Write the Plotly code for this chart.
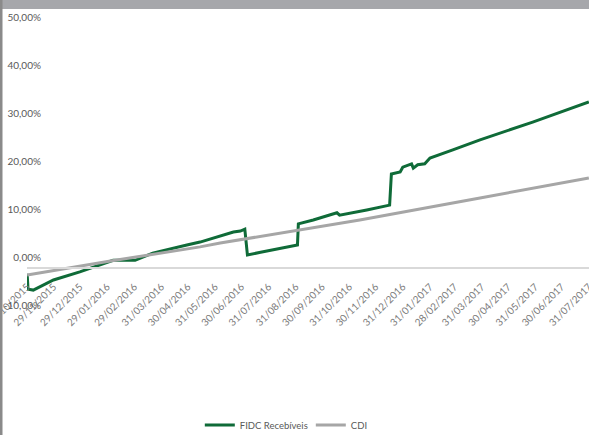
import plotly.graph_objects as go

# ---- data ----
fidc_dates = ["2015-10-30", "2015-10-31", "2015-11-06", "2015-11-29", "2015-12-29",
              "2016-01-29", "2016-02-05", "2016-03-01", "2016-03-21", "2016-04-29",
              "2016-05-14", "2016-06-21", "2016-06-29", "2016-07-04", "2016-07-07",
              "2016-07-22", "2016-08-10", "2016-09-02", "2016-09-03", "2016-09-20",
              "2016-10-17", "2016-10-20", "2016-11-20", "2016-12-16", "2016-12-18",
              "2016-12-28", "2016-12-31", "2017-01-10", "2017-01-12", "2017-01-17",
              "2017-01-25", "2017-01-31", "2017-02-26", "2017-03-29", "2017-05-28",
              "2017-07-31"]
fidc_values = [-1.2, -4.4, -4.6, -2.5, -0.8,
               1.25, 1.6, 1.6, 3.1, 4.8,
               5.4, 7.5, 7.7, 8.1, 2.7,
               3.3, 4.0, 4.8, 9.2, 10.0,
               11.5, 11.0, 12.1, 13.1, 19.6,
               20.0, 21.0, 21.7, 20.8, 21.5,
               21.7, 22.9, 24.6, 26.7, 30.4,
               34.6]

cdi_dates = ["2015-10-30", "2016-02-02", "2016-05-14", "2016-06-06", "2016-11-12",
             "2016-12-28", "2017-03-29", "2017-07-31"]
cdi_values = [-1.45, 1.45, 4.4, 5.2, 10.0, 11.5, 14.6, 18.75]

x_tick_dates = ["2015-10-30", "2015-11-29", "2015-12-29", "2016-01-29", "2016-02-29",
                "2016-03-31", "2016-04-30", "2016-05-31", "2016-06-30", "2016-07-31",
                "2016-08-31", "2016-09-30", "2016-10-31", "2016-11-30", "2016-12-31",
                "2017-01-31", "2017-02-28", "2017-03-31", "2017-04-30", "2017-05-31",
                "2017-06-30", "2017-07-31"]
x_tick_labels = ["30/10/2015", "29/11/2015", "29/12/2015", "29/01/2016", "29/02/2016",
                 "31/03/2016", "30/04/2016", "31/05/2016", "30/06/2016", "31/07/2016",
                 "31/08/2016", "30/09/2016", "31/10/2016", "30/11/2016", "31/12/2016",
                 "31/01/2017", "28/02/2017", "31/03/2017", "30/04/2017", "31/05/2017",
                 "30/06/2017", "31/07/2017"]
y_tick_vals = [-10, 0, 10, 20, 30, 40, 50]
y_tick_labels = ["-10,00%", "0,00%", "10,00%", "20,00%", "30,00%", "40,00%", "50,00%"]

series_names = ["FIDC Recebíveis", "CDI"]

FONT = "Lato"

fig = go.Figure()
fig.add_trace(go.Scatter(x=fidc_dates, y=fidc_values, mode="lines", name=series_names[0],
                         line=dict(color="#0f6b38", width=3)))
fig.add_trace(go.Scatter(x=cdi_dates, y=cdi_values, mode="lines", name=series_names[1],
                         line=dict(color="#a6a6a6", width=3)))

W, H = 589, 435
ml, mr, mt, mb = 27, 0, 28, 119
pw = W - ml - mr
ph = H - mt - mb

fig.update_layout(
    width=W, height=H,
    margin=dict(l=ml, r=mr, t=mt, b=mb, pad=0, autoexpand=False),
    paper_bgcolor="white", plot_bgcolor="white",
    font=dict(family=FONT, color="#595959"),
    showlegend=True,
    legend=dict(orientation="h", x=0.505, xanchor="center",
                y=-(425 - (H - mb)) / ph, yanchor="middle",
                font=dict(size=9.5, color="#595959", family=FONT),
                itemwidth=30, tracegroupgap=0, entrywidth=66),
    xaxis=dict(type="date", range=["2015-10-29 20:00", "2017-07-31 04:00"],
               tickvals=x_tick_dates, ticktext=x_tick_labels, tickangle=-45,
               color="#7a7a7a",
               tickfont=dict(size=10, color="#7a7a7a", family=FONT),
               showgrid=False, zeroline=False, ticks="", automargin=False,
               ticklabeloverflow="allow", ticklabelstandoff=8,
               showline=True, linecolor="#d9d9d9", linewidth=2,
               anchor="free", position=(0 - (-10)) / 60),
    yaxis=dict(range=[-10, 50], tickvals=y_tick_vals, ticktext=y_tick_labels,
               color="#595959",
               tickfont=dict(size=10, color="#595959", family=FONT),
               showgrid=False, zeroline=False, showline=False, ticks="",
               automargin=False,
               anchor="free", position=(41 - ml) / pw,
               ticklabelshift=-11),
)

def px_x(p):
    return (p - ml) / pw

def px_y(p):
    return (H - mb - p) / ph

# top grey band and left border of the cropped chart frame
fig.add_shape(type="rect", xref="paper", yref="paper",
              x0=px_x(0), x1=px_x(W), y0=px_y(9), y1=px_y(0),
              fillcolor="#a6a7ab", line=dict(width=0), layer="above")
fig.add_shape(type="rect", xref="paper", yref="paper",
              x0=px_x(0), x1=px_x(2.5), y0=px_y(H), y1=px_y(0),
              fillcolor="#8a8a8a", line=dict(width=0), layer="above")

fig.write_html("out.html", config={"displayModeBar": False},
               post_script="document.body.style.margin='0';document.body.style.overflow='hidden';")
